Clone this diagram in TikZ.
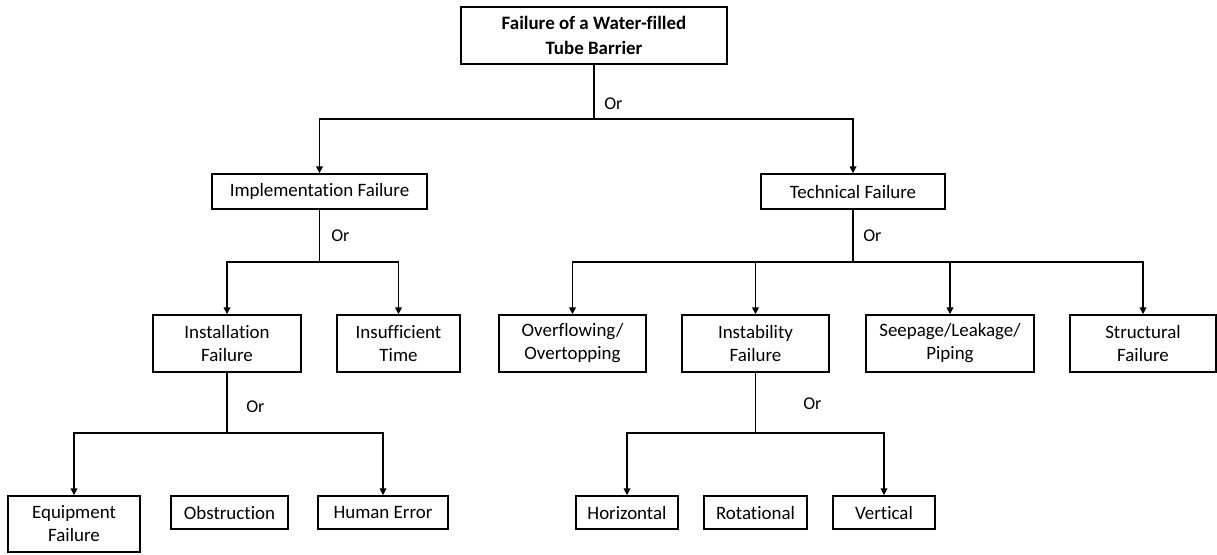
\documentclass[tikz,border=0pt]{standalone}
\usepackage{fontspec}
\setmainfont{Carlito}[Ligatures=NoCommon]
\usetikzlibrary{arrows.meta}

\begin{document}
\begin{tikzpicture}[x=0.75pt, y=-0.75pt,
                    arrow/.style = {line width=0.9pt,-{Triangle[length=5pt,width=5pt]}},
                    bus/.style = {line width=0.9pt},
                    box/.style 2 args = {draw, line width=1.3pt, align=center, inner sep=0pt,
                        minimum width=#1*0.75pt, minimum height=#2*0.75pt,
                        font=\fontsize{14.2}{17.3}\selectfont},
                    gate/.style = {right, inner sep=0pt, font=\fontsize{13.5}{16}\selectfont}]
                    \useasboundingbox (0,0) rectangle (1217,554);

                    \node [box={266}{57}, font=\fontsize{14.2}{18.5}\selectfont\bfseries] (top) at (594,35.5) {Failure of a Water-filled\\Tube Barrier};

                    \node [box={215}{35}] (impl) at (319.5,191.5) {Implementation Failure};
                    \node [box={184}{35}] (tech) at (853,191.5) {Technical Failure};

                    \node [box={148}{57}] (inst) at (227,343.5) {Installation\\Failure};
                    \node [box={123}{57}] (time) at (398.5,343.5) {Insufficient\\Time};
                    \node [box={147}{57}] (over) at (572.5,343.5) {Overflowing/\\Overtopping};
                    \node [box={147}{57}] (instab) at (755.5,343.5) {Instability\\Failure};
                    \node [box={168}{57}] (seep) at (950,343.5) {Seepage/Leakage/\\Piping};
                    \node [box={146}{57}] (struct) at (1143,343.5) {Structural\\Failure};

                    \node [box={132}{56}] (equip) at (74,524) {Equipment\\Failure};
                    \node [box={117}{33}] (obst) at (229.5,512.5) {Obstruction};
                    \node [box={130}{33}] (human) at (383,512.5) {Human Error};

                    \node [box={102}{33}] (horiz) at (627,512.5) {Horizontal};
                    \node [box={103}{33}] (rot) at (755.5,512.5) {Rotational};
                    \node [box={102}{33}] (vert) at (884,512.5) {Vertical};

                    \coordinate (jtop) at (594,119);
                    \coordinate (jimpl) at (319.5,262);
                    \coordinate (jtech) at (853,262);
                    \coordinate (jinst) at (227,433);
                    \coordinate (jinstab) at (755.5,433);

                    \node [gate] (or1) at (604,104) {Or};
                    \node [gate] (or2) at (331,236) {Or};
                    \node [gate] (or3) at (863,236) {Or};
                    \node [gate] (or4) at (246,407) {Or};
                    \node [gate] (or5) at (803,404) {Or};

                    \draw[bus] (top) -- (jtop);
                    \draw[arrow] (jtop) -| (impl);
                    \draw[arrow] (jtop) -| (tech);

                    \draw[bus] (impl) -- (jimpl);
                    \draw[arrow] (jimpl) -| (inst);
                    \draw[arrow] (jimpl) -| (time);

                    \draw[bus] (tech) -- (jtech);
                    \draw[arrow] (jtech) -| (over);
                    \draw[arrow] (jtech) -| (instab);
                    \draw[arrow] (jtech) -| (seep);
                    \draw[arrow] (jtech) -| (struct);

                    \draw[bus] (inst) -- (jinst);
                    \draw[arrow] (jinst) -| (equip);
                    \draw[arrow] (jinst) -| (human);

                    \draw[bus] (instab) -- (jinstab);
                    \draw[arrow] (jinstab) -| (horiz);
                    \draw[arrow] (jinstab) -| (vert);
                \end{tikzpicture}
\end{document}
